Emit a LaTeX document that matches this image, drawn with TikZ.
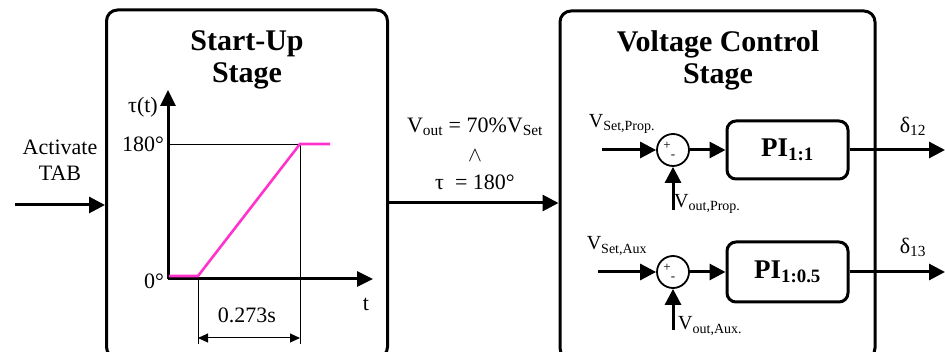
\documentclass[tikz,border=0pt]{standalone}
\usepackage{fontspec}
\setmainfont{Liberation Serif}
\usetikzlibrary{arrows.meta}
\definecolor{pinkline}{HTML}{FF33CC}
\newcommand{\sbs}[1]{\textsubscript{#1}}
\begin{document}
\begin{tikzpicture}[x=1pt,y=-1pt,
  arr/.style={line width=3pt,-{Triangle[length=16pt,width=16pt]}},
  axisarr/.style={line width=3pt,-{Triangle[length=16pt,width=15pt]}},
  stagebox/.style={draw,line width=3pt,rounded corners=11pt,inner sep=0pt},
  pibox/.style={draw,line width=3pt,rounded corners=9pt,inner sep=0pt,minimum width=121pt,font=\fontsize{27}{30}\selectfont\bfseries},
  sumnode/.style={circle,draw,line width=1.8pt,minimum size=32pt,inner sep=0pt},
  thin/.style={line width=0.8pt},
  lbl/.style={font=\fontsize{22}{25}\selectfont,inner sep=0pt},
  slbl/.style={font=\fontsize{20}{23}\selectfont,inner sep=0pt},
  ttl/.style={font=\fontsize{30}{35}\selectfont\bfseries,align=center,inner sep=0pt},
  sign/.style={font=\fontsize{13}{14}\selectfont,inner sep=0pt}
]
\useasboundingbox (0,0) rectangle (945,352);
\clip (0,0) rectangle (945,352);
% stage boxes
\node[stagebox,minimum width=281pt,minimum height=348pt] (su) at (247,184) {};
\node[stagebox,minimum width=315pt,minimum height=348pt] (vc) at (717.5,185) {};
\node[ttl] (sut) at (247,60) {Start-Up\\[-3pt]Stage};
\node[ttl] (vct) at (718,60) {Voltage Control\\[-3pt]Stage};
% input
\node[lbl,align=center] (act) at (60,160) {Activate\\[1pt]TAB};
\coordinate (in) at (15,205);
\draw[arr] (in) -- (in -| su.west);
% middle
\node[lbl] (c1) at (475,127) {V\sbs{out} = 70\%V\sbs{Set}};
\node[lbl] (c2) at (475,156) {$\wedge$};
\node[lbl] (c3) at (475,182) {τ \ = 180°};
\coordinate (m) at (388,203);
\draw[arr] (m -| su.east) -- (m -| vc.west);
% graph
\coordinate (O) at (168,279);
\coordinate (ytop) at (168,90);
\coordinate (xend) at (373,279);
\coordinate (k1) at (198,276);
\coordinate (k2) at (300,144);
\draw[thin] (O |- k2) -- (k2);
\draw[thin] (k2) -- (300,344);
\draw[thin] (198,279) -- (198,344);
\draw[axisarr] (O) -- (ytop);
\draw[axisarr] (O) -- (xend);
\draw[pinkline,line width=2.6pt] (169,276) -- (k1) -- (k2) -- (330,144);
\draw[line width=1pt,{Triangle[length=10pt,width=9pt]}-{Triangle[length=10pt,width=9pt]}] (198,338) -- (300,338);
\node[lbl] (tau) at (143,107) {τ(t)};
\node[lbl,anchor=east] (l180) at (164,144) {180°};
\node[lbl,anchor=east] (l0) at (164,281) {0°};
\node[lbl] (lt) at (366,304) {t};
\node[lbl] (ldt) at (247,315) {0.273s};
% voltage control loops
\node[sumnode] (s1) at (673,150) {};
\node[sumnode] (s2) at (673,272) {};
\node[sign] at (667,146) {+};
\node[sign] at (673,157) {-};
\node[sign] at (667,268) {+};
\node[sign] at (673,279) {-};
\node[pibox,minimum height=58pt] (pi1) at (787.5,150) {PI\textsubscript{1:1}};
\node[pibox,minimum height=60pt] (pi2) at (787.5,272) {PI\textsubscript{1:0.5}};
\coordinate (i1) at (602,150);
\coordinate (i2) at (598,272);
\coordinate (v1) at (673,210);
\coordinate (v2) at (673,330);
\coordinate (o1) at (945,150);
\coordinate (o2) at (945,272);
\draw[arr] (i1) -- (s1);
\draw[arr] (i2) -- (s2);
\draw[arr] (s1) -- (pi1);
\draw[arr] (s2) -- (pi2);
\draw[arr] (v1) -- (s1);
\draw[arr] (v2) -- (s2);
\draw[arr] (pi1) -- (o1);
\draw[arr] (pi2) -- (o2);
\node[slbl] (vsp) at (622,124) {V\sbs{Set,Prop.}};
\node[slbl] (vsa) at (617,246) {V\sbs{Set,Aux}};
\node[slbl,anchor=west] (vop) at (674,204) {V\sbs{out,Prop.}};
\node[slbl,anchor=west] (voa) at (678,326) {V\sbs{out,Aux.}};
\node[lbl] (d12) at (913,126) {δ\sbs{12}};
\node[lbl] (d13) at (913,247) {δ\sbs{13}};
\end{tikzpicture}
\end{document}
